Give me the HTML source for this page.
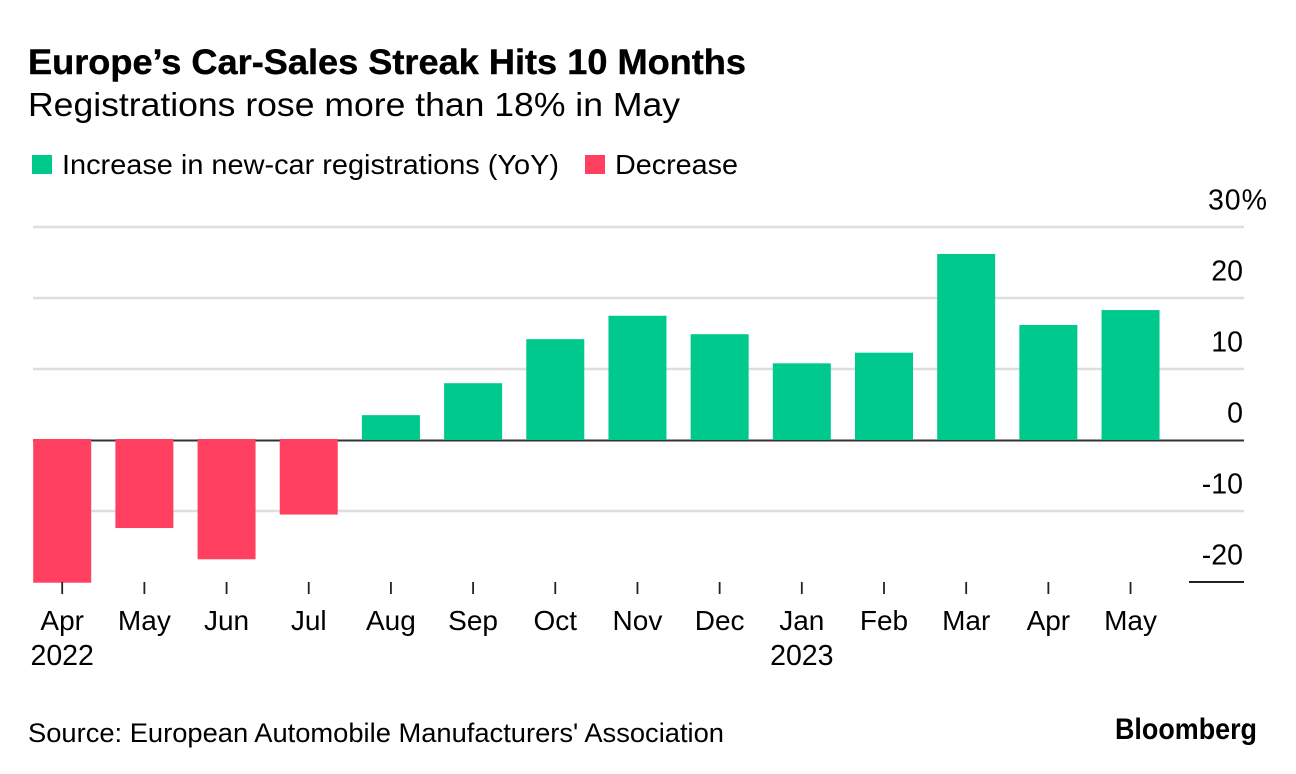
<!DOCTYPE html>
<html>
<head>
<meta charset="utf-8">
<style>
html,body{margin:0;padding:0;background:#fff;width:1296px;height:774px;overflow:hidden}
svg{display:block}
text{font-family:"Liberation Sans",sans-serif;fill:#000}
</style>
</head>
<body>
<svg id="chart" width="1296" height="774" viewBox="0 0 1296 774" xmlns="http://www.w3.org/2000/svg">
<text x="28" y="74" font-size="35" font-weight="700" stroke="#000" stroke-width="0.4" textLength="718" lengthAdjust="spacingAndGlyphs">Europe’s Car-Sales Streak Hits 10 Months</text>
<text x="28" y="116" font-size="33" textLength="652" lengthAdjust="spacingAndGlyphs">Registrations rose more than 18% in May</text>
<rect x="32" y="155" width="20" height="19" fill="#00c98d"/>
<text x="62" y="174" font-size="28" textLength="497" lengthAdjust="spacingAndGlyphs">Increase in new-car registrations (YoY)</text>
<rect x="585" y="155" width="20" height="19" fill="#ff4060"/>
<text x="615" y="174" font-size="28" textLength="123" lengthAdjust="spacingAndGlyphs">Decrease</text>
<g id="plot"></g>
<text x="28" y="742" font-size="27" textLength="696" lengthAdjust="spacingAndGlyphs">Source: European Automobile Manufacturers' Association</text>
<text x="1115" y="739" font-size="30" font-weight="700" textLength="142" lengthAdjust="spacingAndGlyphs">Bloomberg</text>
</svg>
<script>
const months = ['Apr','May','Jun','Jul','Aug','Sep','Oct','Nov','Dec','Jan','Feb','Mar','Apr','May'];
const years = ['2022','','','','','','','','','2023','','','',''];
const values = [-20.1,-12.4,-16.8,-10.5,3.5,8.0,14.2,17.5,14.9,10.8,12.3,26.2,16.2,18.3];
const yTicks = [30,20,10,0,-10,-20];
const yTickLabels = ['30%','20','10','0','-10','-20'];

const NS = 'http://www.w3.org/2000/svg';
const plot = document.getElementById('plot');
const yScale = v => 440 - v * 7.1;
const xScale = i => 62.2 + i * 82.18;
const barWidth = 58;

function make(tag, attrs, parent) {
  const el = document.createElementNS(NS, tag);
  for (const k in attrs) el.setAttribute(k, attrs[k]);
  parent.appendChild(el);
  return el;
}

yTicks.forEach(function (t, i) {
  if (t !== 0 && t !== -20) {
    const grid = make('line', {x1: 33, x2: 1244, y1: yScale(t), y2: yScale(t), stroke: '#dedede', 'stroke-width': 2.6}, plot);
    
    
  }
  const label = make('text', {x: t === 30 ? 1268 : 1243, y: yScale(t) - 17.5, 'font-size': 28.5, 'text-anchor': 'end', 'letter-spacing': t === 30 ? 1 : 0}, plot);
  label.textContent = yTickLabels[i];
  
  
});

const bottomRule = make('line', {x1: 1189, x2: 1244, y1: yScale(-20), y2: yScale(-20), stroke: '#222', 'stroke-width': 2}, plot);



const zeroLine = make('line', {x1: 33, x2: 1244, y1: yScale(0) + 0.5, y2: yScale(0) + 0.5, stroke: '#333', 'stroke-width': 2}, plot);



values.forEach(function (v, i) {
  const top = Math.min(yScale(v), yScale(0));
  const h = Math.abs(yScale(v) - yScale(0));
  const overlap = v < 0 ? 1 : 0;
  const bar = make('rect', {x: xScale(i) - barWidth / 2, y: top - overlap, width: barWidth, height: h + overlap, fill: v >= 0 ? '#00c98d' : '#ff4060'}, plot);
  
  

  const tick = make('line', {x1: xScale(i), x2: xScale(i), y1: 582, y2: 594, stroke: '#222', 'stroke-width': 1.8}, plot);
  
  

  const label = make('text', {x: xScale(i), y: 630, 'font-size': 28, 'text-anchor': 'middle'}, plot);
  label.textContent = months[i];
  
  

  if (years[i]) {
    const yearLabel = make('text', {x: xScale(i), y: 665, 'font-size': 28.5, 'text-anchor': 'middle'}, plot);
    yearLabel.textContent = years[i];
    
    
  }
});
</script>
</body>
</html>
